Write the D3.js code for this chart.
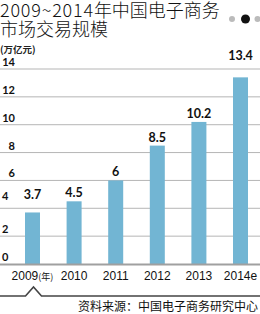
<!DOCTYPE html>
<html>
<head>
<meta charset="utf-8">
<script src="https://cdn.jsdelivr.net/npm/d3@7"></script>
<style>
  body { margin: 0; background: #fff; }
  svg { display: block; }
</style>
</head>
<body>
<svg id="chart" width="260" height="314"></svg>
<script>
var years = ["2009", "2010", "2011", "2012", "2013", "2014e"];
var values = [3.7, 4.5, 6, 8.5, 10.2, 13.4];
var valueLabels = ["3.7", "4.5", "6", "8.5", "10.2", "13.4"];
var yTicks = [0, 2, 4, 6, 8, 10, 12, 14];

var svg = d3.select("#chart");
var cjk = "'Noto Sans CJK SC', sans-serif";
var num = "Lato, 'Open Sans', sans-serif";

var y = d3.scaleLinear().domain([0, 14]).range([264, 69]);
var x = d3.scalePoint().domain(years).range([32.5, 240.5]);
var barWidth = 15;

// title
var t1 = svg.append("text").attr("x", 0).attr("y", 17)
  .attr("font-family", cjk).attr("font-weight", 300).attr("font-size", 18)
  .attr("fill", "#111");
t1.append("tspan").attr("letter-spacing", 0.8).text("2009~2014");
t1.append("tspan").text("年中国电子商务");
svg.append("text").attr("x", 0).attr("y", 36)
  .attr("font-family", cjk).attr("font-weight", 300).attr("font-size", 18)
  .attr("fill", "#111").text("市场交易规模");
svg.append("text").attr("x", 0).attr("y", 53)
  .attr("font-family", cjk).attr("font-weight", 700).attr("font-size", 9.5)
  .attr("fill", "#222").text("(万亿元)");

// page dots
svg.append("circle").attr("cx", 232).attr("cy", 19).attr("r", 3).attr("fill", "#bbb");
svg.append("circle").attr("cx", 245.5).attr("cy", 19).attr("r", 4.5).attr("fill", "#111");
svg.append("circle").attr("cx", 257.5).attr("cy", 19).attr("r", 3).attr("fill", "#bbb");

// grid
svg.append("g").selectAll("line").data(yTicks.filter(function(t) { return t > 0; }))
  .enter().append("line")
  .attr("x1", 0).attr("x2", 260)
  .attr("y1", function(d) { return y(d); }).attr("y2", function(d) { return y(d); })
  .attr("stroke", "#b5b5b5").attr("stroke-width", 1);

svg.append("g").selectAll("text").data(yTicks).enter().append("text")
  .attr("x", function(d) { return d >= 6 ? 15 : 2; })
  .attr("text-anchor", function(d) { return d >= 6 ? "end" : "start"; })
  .attr("y", function(d) { return d == 4 ? y(d) - 8 : y(d) - 3; })
  .attr("font-family", num).attr("font-weight", 700).attr("font-size", 11)
  .attr("fill", "#111")
  .text(function(d) { return d; });

// bars
svg.append("g").selectAll("rect").data(values).enter().append("rect")
  .attr("x", function(d, i) { return x(years[i]) - barWidth / 2; })
  .attr("width", barWidth)
  .attr("y", function(d) { return y(d); })
  .attr("height", function(d) { return y(0) - y(d); })
  .attr("fill", "#72b5d3");

// baseline
svg.append("line").attr("x1", 0).attr("x2", 260)
  .attr("y1", y(0) + 0.5).attr("y2", y(0) + 0.5)
  .attr("stroke", "#a0a0a0").attr("stroke-width", 2);

// value labels
svg.append("g").selectAll("text").data(values).enter().append("text")
  .attr("x", function(d, i) { return x(years[i]); })
  .attr("y", function(d) {
    var b = y(d) - 4;
    var hit = yTicks.filter(function(t) { return y(t) > b - 9 && y(t) < b + 2; });
    return hit.length ? y(hit[0]) - 9 : b;
  })
  .attr("text-anchor", "middle")
  .attr("font-family", num).attr("font-weight", 700).attr("font-size", 12.5)
  .attr("fill", "#111")
  .text(function(d, i) { return valueLabels[i]; });

// x labels
var xl = svg.append("g").selectAll("text").data(years).enter().append("text")
  .attr("x", function(d) { return x(d); })
  .attr("y", 280)
  .attr("text-anchor", "middle")
  .attr("font-family", "'Liberation Sans', Arial, sans-serif").attr("font-size", 12)
  .attr("fill", "#111");
xl.append("tspan").text(function(d) { return d; });
xl.filter(function(d, i) { return i == 0; }).append("tspan")
  .attr("font-family", cjk).attr("font-size", 9).text("(年)");

// bottom rule with caret under the first year
var cx = x(years[0]) + 1;
var rule = d3.line()([[0, 296], [cx - 8, 296], [cx, 287], [cx + 8, 296], [260, 296]]);
svg.append("path").attr("d", rule).attr("fill", "none")
  .attr("stroke", "#444").attr("stroke-width", 1.6);

svg.append("text").attr("x", 258).attr("y", 311)
  .attr("text-anchor", "end")
  .attr("font-family", cjk).attr("font-size", 12)
  .attr("fill", "#111").text("资料来源：中国电子商务研究中心");
</script>
</body>
</html>
